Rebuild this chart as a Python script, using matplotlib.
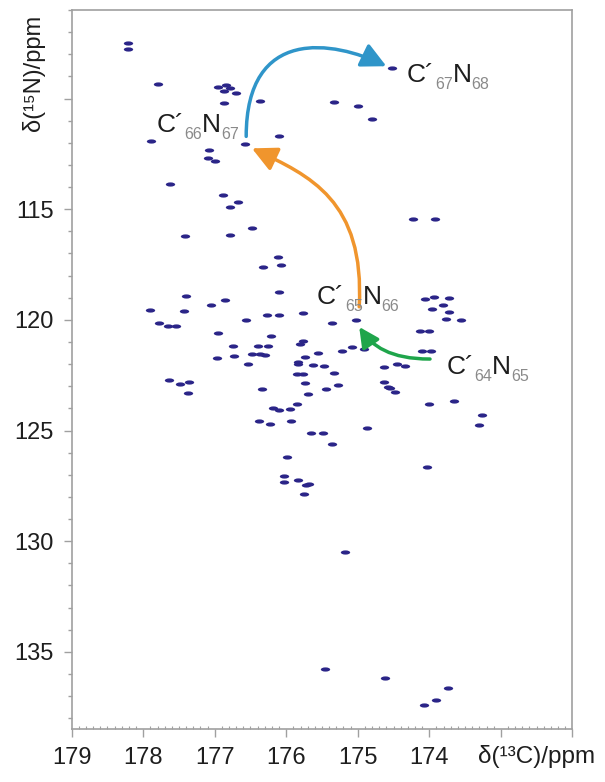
import matplotlib
matplotlib.use('Agg')
import matplotlib.pyplot as plt
from matplotlib.path import Path
from matplotlib.patches import FancyArrowPatch
from matplotlib.ticker import MultipleLocator
from matplotlib.transforms import Affine2D

plt.rcParams['font.family'] = ['Liberation Sans', 'DejaVu Sans']

# peak positions: 13C' shift (ppm) and 15N shift (ppm)
c13_shift = [178.21, 178.21, 177.79, 176.95, 176.84, 176.79, 176.87, 176.70, 176.87, 176.37,
             177.89, 176.57, 176.10, 177.08, 177.09, 177.00, 177.62, 176.88, 176.67, 176.79,
             176.48, 174.52, 175.33, 174.99, 174.80, 174.23, 173.92, 177.41, 176.78, 176.12,
             176.32, 176.07, 176.10, 177.40, 176.85, 177.05, 177.90, 177.43, 176.56, 176.27,
             176.10, 175.77, 177.78, 177.66, 177.54, 175.36, 175.02, 176.96, 176.22, 176.75,
             176.73, 176.39, 176.25, 176.48, 176.37, 176.30, 176.97, 176.53, 175.77, 175.81,
             175.55, 175.74, 175.84, 175.83, 175.62, 175.47, 175.22, 175.08, 174.91, 175.33,
             175.85, 175.76, 175.74, 175.27, 175.45, 175.69, 177.64, 177.49, 177.36, 177.37,
             176.34, 176.18, 176.10, 175.95, 175.85, 174.63, 174.64, 174.58, 174.06, 173.94,
             173.72, 173.96, 173.81, 173.73, 173.77, 173.56, 174.13, 174.00, 174.10, 173.97,
             174.45, 174.34, 174.55, 174.48, 174.00, 173.66, 173.26, 173.31, 176.38, 176.23,
             175.94, 175.66, 175.48, 175.36, 174.87, 175.99, 176.03, 176.03, 175.83, 175.72,
             175.68, 175.75, 174.03, 175.18, 175.46, 174.62, 173.74, 173.91, 174.08]
n15_shift = [107.51, 107.77, 109.35, 109.48, 109.40, 109.53, 109.67, 109.75, 110.18, 110.12,
             111.92, 112.06, 111.68, 112.34, 112.67, 112.80, 113.88, 114.37, 114.69, 114.88,
             115.86, 108.61, 110.15, 110.32, 110.91, 115.44, 115.44, 116.23, 116.16, 117.15,
             117.60, 117.52, 118.73, 118.93, 119.11, 119.31, 119.55, 119.59, 119.99, 119.77,
             119.79, 119.68, 120.15, 120.29, 120.29, 120.15, 120.01, 120.60, 120.73, 121.18,
             121.62, 121.19, 121.17, 121.56, 121.53, 121.60, 121.74, 122.01, 120.95, 121.07,
             121.48, 121.68, 121.89, 122.01, 122.05, 122.10, 121.39, 121.22, 121.33, 122.42,
             122.46, 122.46, 122.87, 122.93, 123.13, 123.37, 122.71, 122.89, 122.82, 123.32,
             123.14, 123.97, 124.09, 124.02, 123.82, 122.13, 122.80, 123.04, 119.04, 118.96,
             119.02, 119.52, 119.33, 119.64, 119.97, 120.00, 120.51, 120.51, 121.42, 121.42,
             121.98, 122.09, 123.07, 123.25, 123.81, 123.65, 124.32, 124.76, 124.58, 124.70,
             124.59, 125.11, 125.11, 125.61, 124.89, 126.19, 127.07, 127.34, 127.24, 127.45,
             127.41, 127.85, 126.65, 130.47, 135.76, 136.18, 136.64, 137.17, 137.38]

x_ticks = [179, 178, 177, 176, 175, 174, 173, 172]
x_ticklabels = ['179', '178', '177', '176', '175', '174', '', '']
y_ticks = [110, 115, 120, 125, 130, 135]
y_ticklabels = ['', '115', '120', '125', '130', '135']

# sequential-walk labels: (residue i, residue i+1, C shift, N shift)
walk_labels = [('66', '67', 177.81, 111.53),
               ('67', '68', 174.31, 109.26),
               ('65', '66', 175.57, 119.28),
               ('64', '65', 173.76, 122.45)]

# arrows as cubic curves (C shift, N shift control points)
blue_arrow = [(176.56, 111.71), (176.56, 106.70), (175.33, 107.40), (174.60, 108.54)]
orange_arrow = [(174.98, 119.41), (174.90, 114.61), (175.67, 113.48), (176.48, 112.25)]
green_arrow = [(173.99, 121.77), (174.55, 121.77), (174.80, 121.18), (174.98, 120.32)]

peak_color = '#2b2588'
axis_color = '#a0a0a0'
text_dark = '#1e1e1e'
text_gray = '#8a8a8a'

fig = plt.figure(figsize=(6.05, 7.82), dpi=100)
ax = fig.add_axes([0.1185, 0.0674, 0.8275, 0.9198])

peak_marker = Path.unit_circle().transformed(Affine2D().scale(1.0, 0.45))
ax.scatter(c13_shift, n15_shift, marker=peak_marker, s=45, c=peak_color, linewidths=0, zorder=3)

ax.set_xlim(179, 172)
ax.set_ylim(138.5, 106)
ax.set_xticks(x_ticks)
ax.set_xticklabels(x_ticklabels)
ax.set_yticks(y_ticks)
ax.set_yticklabels(y_ticklabels)
ax.xaxis.set_minor_locator(MultipleLocator(0.1))
ax.yaxis.set_minor_locator(MultipleLocator(1))

for s in ax.spines.values():
    s.set_color(axis_color)
    s.set_linewidth(1.2)
ax.tick_params(which='major', length=6, width=1, color=axis_color, labelsize=17, labelcolor=text_dark)
ax.tick_params(axis='x', which='major', pad=7)
ax.tick_params(axis='y', which='major', pad=7)
ax.tick_params(axis='y', which='minor', length=3, width=1, color=axis_color)
ax.tick_params(axis='x', which='minor', direction='in', length=2.5, width=0.8, color=axis_color)

fig.text(537 / 605, 1 - 757 / 782, 'δ(¹³C)/ppm', ha='center', va='center', fontsize=17.5, color=text_dark)
fig.text(33 / 605, 1 - 73 / 782, 'δ(¹⁵N)/ppm', ha='center', va='center', rotation=90,
         fontsize=17, color=text_dark)

codes = [Path.MOVETO, Path.CURVE4, Path.CURVE4, Path.CURVE4]
for pts, col, ms in [(blue_arrow, '#2f95c9', 25), (orange_arrow, '#f0952d', 25), (green_arrow, '#1fa54b', 20)]:
    arr = FancyArrowPatch(path=Path(pts, codes), arrowstyle='-|>,head_length=0.6,head_width=0.3',
                          mutation_scale=ms, color=col, lw=2.5, zorder=4)
    ax.add_patch(arr)

big, small = 19, 11.5
for i, j, x, y in walk_labels:
    t1 = ax.text(x, y, 'C´', fontsize=big, color=text_dark, va='baseline', ha='left', zorder=5)
    t2 = ax.annotate(i, xy=(1, 0), xycoords=t1, xytext=(0, -3.3), textcoords='offset points',
                     fontsize=small, color=text_gray, va='bottom', ha='left', zorder=5)
    t3 = ax.annotate('N', xy=(1, 0), xycoords=(t2, t1), fontsize=big, color=text_dark,
                     va='bottom', ha='left', zorder=5)
    ax.annotate(j, xy=(1, 0), xycoords=t3, xytext=(0, -3.3), textcoords='offset points',
                fontsize=small, color=text_gray, va='bottom', ha='left', zorder=5)

fig.savefig('out.png', dpi=100)
